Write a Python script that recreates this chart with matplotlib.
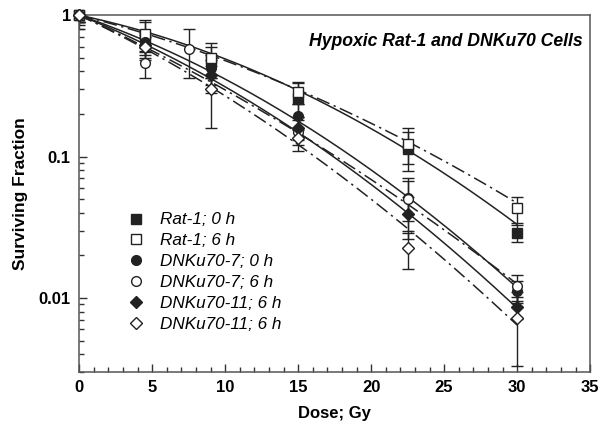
import numpy as np
import matplotlib
matplotlib.use("Agg")
import matplotlib.pyplot as plt
from matplotlib.ticker import FixedLocator, FuncFormatter, MultipleLocator, LogLocator

plt.rcParams['font.family'] = ['Liberation Sans', 'DejaVu Sans']

# surviving fraction
dose = [0, 4.5, 9, 15, 22.5, 30]
dose_k7_6h = [0, 4.5, 7.5, 15, 22.5, 30]

rat1_0h = [1.0, 0.70, 0.48, 0.26, 0.114, 0.029]
rat1_0h_err = [0.10, 0.22, 0.12, 0.07, 0.035, 0.004]
rat1_6h = [1.0, 0.74, 0.50, 0.285, 0.123, 0.043]
rat1_6h_err = [0.10, 0.15, 0.14, 0.05, 0.035, 0.009]
k7_0h = [1.0, 0.65, 0.42, 0.195, 0.051, 0.0112]
k7_0h_err = [0.15, 0.10, 0.10, 0.04, 0.016, 0.002]
k7_6h = [1.0, 0.46, 0.58, 0.15, 0.050, 0.0121]
k7_6h_err = [0.10, 0.10, 0.22, 0.03, 0.020, 0.0025]
k11_0h = [1.0, 0.62, 0.38, 0.16, 0.039, 0.0086]
k11_0h_err = [0.20, 0.10, 0.10, 0.03, 0.013, 0.0015]
k11_6h = [1.0, 0.60, 0.30, 0.135, 0.0225, 0.0072]
k11_6h_err = [0.10, 0.10, 0.14, 0.025, 0.0065, 0.0039]

# linear-quadratic fit parameters (alpha, beta) estimated from the curves
fit_rat1_0h = (0.050, 0.00212)
fit_rat1_6h = (0.0600, 0.00140)
fit_k7_0h = (0.0822, 0.00219)
fit_k7_6h = (0.1096, 0.00121)
fit_k11_0h = (0.0954, 0.00212)
fit_k11_6h = (0.113, 0.00184)

labels = ['Rat-1; 0 h', 'Rat-1; 6 h', 'DNKu70-7; 0 h', 'DNKu70-7; 6 h',
          'DNKu70-11; 6 h', 'DNKu70-11; 6 h']

fig = plt.figure(figsize=(6.04, 4.33), dpi=100)
ax = fig.add_axes([0.131, 0.141, 0.846, 0.824])

dd = np.linspace(0, 30, 200)
dashdot = (0, (9, 3, 1.5, 3))
fits = [(fit_rat1_0h, '-'), (fit_rat1_6h, dashdot), (fit_k7_0h, '-'),
        (fit_k7_6h, dashdot), (fit_k11_0h, '-'), (fit_k11_6h, dashdot)]
for (a, b), ls in fits:
    ax.plot(dd, np.exp(-a * dd - b * dd ** 2), color='#222222', lw=1.1, ls=ls)

series = [
    (dose, rat1_0h, rat1_0h_err, 's', '#222222'),
    (dose, rat1_6h, rat1_6h_err, 's', 'white'),
    (dose, k7_0h, k7_0h_err, 'o', '#222222'),
    (dose_k7_6h, k7_6h, k7_6h_err, 'o', 'white'),
    (dose, k11_0h, k11_0h_err, 'D', '#222222'),
    (dose, k11_6h, k11_6h_err, 'D', 'white'),
]
handles = []
for (x, y, e, m, fc), lab in zip(series, labels):
    ax.errorbar(x, y, yerr=e, fmt='none', ecolor='#222222', elinewidth=1.0,
                capsize=4, capthick=1.0)
    h, = ax.plot(x, y, ls='none', marker=m, ms=7 if m != 'D' else 6,
                 mfc=fc, mec='#222222', mew=1.0, clip_on=False, zorder=5,
                 label=lab)
    handles.append(h)

ax.set_yscale('log')
ax.set_xlim(0, 35)
ax.set_ylim(0.003, 1)
ax.xaxis.set_major_locator(MultipleLocator(5))
ax.xaxis.set_minor_locator(MultipleLocator(1))
ax.yaxis.set_major_locator(FixedLocator([0.01, 0.1, 1]))
ax.yaxis.set_minor_locator(LogLocator(base=10, subs=np.arange(2, 10)))
ax.yaxis.set_major_formatter(FuncFormatter(lambda v, p: '%g' % v))
ax.yaxis.set_minor_formatter(FuncFormatter(lambda v, p: ''))
ax.tick_params(which='both', direction='in', labelsize=12, width=1.0, colors='#333333')
ax.tick_params(which='major', length=6, pad=6)
ax.tick_params(which='minor', length=3.5)
for t in ax.get_xticklabels() + ax.get_yticklabels():
    t.set_fontweight('bold')
    t.set_color('black')
for s in ax.spines.values():
    s.set_color('#555555')
    s.set_linewidth(1.1)

ax.set_xlabel('Dose; Gy', fontsize=12, fontweight='bold', labelpad=8)
ax.set_ylabel('Surviving Fraction', fontsize=12.5, fontweight='bold', labelpad=8)

ax.text(0.985, 0.925, 'Hypoxic Rat-1 and DNKu70 Cells', transform=ax.transAxes,
        ha='right', va='center', fontsize=12.7, fontweight='bold', style='italic')

leg = ax.legend(handles=handles, loc='upper left', bbox_to_anchor=(0.065, 0.49),
                frameon=False, handlelength=1.0, handletextpad=0.9,
                labelspacing=0.35, prop={'style': 'italic', 'size': 12.3})

plt.savefig('out.png', dpi=100)
